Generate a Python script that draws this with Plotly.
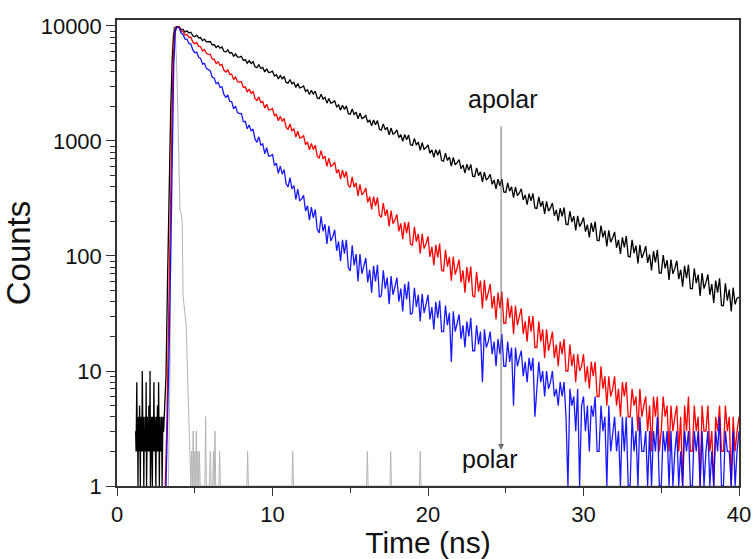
import math
import plotly.graph_objects as go

# ---------------- data ----------------
# decay channels: 4.000 ns .. 40.000 ns every 0.125 ns (289 channels)
decay_t = [round(4.0 + 0.125 * i, 3) for i in range(289)]

# apolar (black): pre-pulse background, rising edge, decay
black_pre_t = [round(1.20 + 0.025 * i, 3) for i in range(73)]
black_pre = [3, 2, 4, 8, 2, 3, 1, 4, 3, 2,
             5, 3, 1, 4, 2, 3, 2, 10, 3, 2,
             4, 1, 3, 2, 4, 3, 2, 8, 1, 3,
             4, 2, 3, 2, 5, 3, 2, 10, 1, 3,
             2, 4, 3, 1, 4, 2, 3, 8, 2, 3,
             4, 2, 1, 3, 4, 2, 5, 3, 2, 8,
             3, 1, 4, 2, 3, 2, 4, 3, 1, 2,
             4, 3, 3]
black_rise_t = [3.05, 3.15, 3.25, 3.35, 3.45, 3.55, 3.65, 3.75, 3.85]
black_rise = [4, 9, 60, 400, 1800, 5000, 8500, 9700, 9850]
black_decay = [
    9860, 9295, 9323, 8854, 9086, 8691, 8828, 8219,
    8075, 8330, 7879, 7928, 7435, 7689, 7278, 7259,
    7327, 6831, 6896, 6488, 6743, 6406, 6569, 6026,
    5929, 6193, 5806, 5879, 5451, 5713, 5359, 5368,
    5450, 5017, 5101, 4749, 5007, 4720, 4893, 4415,
    4342, 4609, 4272, 4360, 3984, 4248, 3939, 3968,
    4045, 3678, 3766, 3469, 3711, 3471, 3637, 3228,
    3182, 3426, 3144, 3232, 2914, 3156, 2896, 2932,
    3010, 2702, 2788, 2539, 2757, 2559, 2710, 2366,
    2332, 2547, 2315, 2396, 2133, 2345, 2131, 2167,
    2237, 1980, 2059, 1853, 2046, 1882, 2017, 1728,
    1709, 1900, 1704, 1781, 1559, 1748, 1568, 1604,
    1666, 1453, 1525, 1353, 1521, 1386, 1505, 1264,
    1245, 1409, 1248, 1316, 1133, 1295, 1147, 1181,
    1248, 1070, 1134, 994, 1137, 1026, 1130, 928,
    914, 1053, 922, 980, 830, 966, 846, 876,
    925, 782, 836, 722, 841, 752, 839, 676,
    668, 783, 677, 726, 605, 718, 621, 648,
    690, 573, 619, 527, 627, 555, 626, 494,
    489, 584, 499, 539, 441, 535, 457, 478,
    513, 420, 458, 384, 465, 408, 467, 360,
    357, 433, 366, 400, 322, 398, 335, 353,
    384, 308, 340, 279, 348, 301, 350, 262,
    259, 326, 269, 299, 232, 298, 245, 262,
    289, 224, 252, 201, 260, 221, 264, 189,
    187, 245, 197, 222, 167, 223, 180, 194,
    216, 163, 187, 145, 194, 162, 199, 137,
    136, 184, 145, 166, 121, 167, 132, 144,
    162, 118, 138, 104, 145, 119, 149, 99,
    98, 138, 106, 123, 86, 125, 96, 106,
    122, 87, 103, 75, 110, 88, 113, 71,
    71, 102, 78, 92, 62, 93, 70, 78,
    91, 63, 76, 54, 82, 64, 84, 52,
    52, 78, 58, 69, 45, 71, 52, 59,
    69, 46, 57, 39, 61, 48, 64, 37,
    37, 58, 41, 51, 33, 53, 38, 43,
    44]

# intermediate polarity (red)
red_rise_t = [3.10, 3.20, 3.30, 3.40, 3.50, 3.60, 3.70, 3.80, 3.90]
red_rise = [1, 3, 20, 150, 1000, 4500, 8500, 9650, 9750]
red_decay = [
    9785, 9012, 8945, 8306, 8471, 7942, 7996, 7255,
    7004, 7191, 6650, 6622, 6056, 6241, 5770, 5689,
    5663, 5140, 5141, 4716, 4886, 4539, 4625, 4116,
    3972, 4158, 3791, 3812, 3424, 3602, 3284, 3258,
    3282, 2919, 2955, 2664, 2827, 2594, 2689, 2330,
    2247, 2416, 2161, 2203, 1930, 2090, 1869, 1872,
    1914, 1656, 1704, 1500, 1642, 1481, 1570, 1313,
    1265, 1407, 1229, 1274, 1081, 1215, 1060, 1074,
    1112, 932, 978, 836, 952, 843, 919, 736,
    710, 825, 698, 739, 602, 710, 601, 618,
    656, 525, 567, 465, 559, 480, 543, 409,
    395, 488, 397, 433, 333, 419, 340, 358,
    389, 293, 328, 254, 329, 273, 324, 226,
    217, 289, 224, 254, 181, 248, 191, 206,
    230, 164, 192, 140, 197, 158, 198, 127,
    124, 179, 133, 156, 105, 156, 116, 128,
    148, 98, 120, 83, 125, 97, 128, 75,
    74, 113, 81, 98, 61, 99, 69, 79,
    93, 59, 75, 48, 80, 59, 81, 45,
    44, 73, 49, 61, 35, 62, 41, 48,
    57, 35, 45, 28, 48, 35, 49, 26,
    26, 43, 29, 37, 21, 37, 25, 30,
    35, 21, 27, 18, 30, 22, 30, 16,
    16, 27, 18, 23, 13, 23, 15, 18,
    22, 13, 17, 11, 18, 14, 19, 10,
    10, 17, 11, 14, 8, 14, 10, 11,
    14, 8, 11, 7, 12, 9, 12, 6,
    6, 11, 7, 9, 5, 9, 6, 7,
    9, 5, 7, 4, 8, 6, 8, 4,
    4, 7, 5, 6, 3, 7, 4, 5,
    6, 3, 5, 2, 6, 4, 6, 2,
    3, 6, 4, 5, 2, 5, 3, 4,
    5, 2, 4, 1, 5, 3, 6, 2,
    2, 5, 3, 4, 1, 5, 3, 3,
    5, 2, 3, 1, 4, 3, 5, 2,
    2, 5, 3, 4, 1, 4, 2, 3,
    4]

# polar (blue)
blue_rise_t = [3.15, 3.25, 3.35, 3.45, 3.55, 3.65, 3.75, 3.85]
blue_rise = [1, 3, 14, 90, 800, 4500, 9000, 9750]
blue_decay = [
    9610, 8674, 8437, 7679, 7675, 7053, 6960, 6188,
    5852, 5920, 5345, 5231, 4665, 4739, 4278, 4140,
    4069, 3581, 3534, 3148, 3239, 2931, 2955, 2541,
    2394, 2514, 2211, 2204, 1900, 2009, 1766, 1732,
    1737, 1468, 1484, 1278, 1379, 1217, 1271, 1036,
    974, 1087, 920, 946, 775, 875, 740, 742,
    768, 612, 640, 522, 605, 515, 565, 425,
    398, 481, 384, 410, 310, 382, 303, 312,
    337, 246, 273, 205, 266, 215, 254, 170,
    159, 221, 164, 189, 127, 183, 135, 147,
    169, 111, 134, 90, 138, 105, 138, 79,
    74, 124, 83, 104, 60, 104, 70, 82,
    96, 59, 76, 48, 82, 60, 84, 44,
    45, 75, 52, 65, 38, 67, 46, 54,
    65, 40, 52, 33, 57, 42, 60, 31,
    32, 53, 36, 46, 27, 47, 32, 38,
    46, 28, 36, 23, 40, 29, 41, 22,
    22, 37, 25, 32, 12, 33, 22, 26,
    31, 19, 25, 16, 27, 20, 29, 15,
    15, 25, 17, 22, 8, 23, 16, 18,
    22, 14, 18, 11, 19, 14, 21, 11,
    11, 18, 12, 16, 5, 16, 11, 13,
    15, 9, 12, 8, 13, 10, 13, 4,
    7, 12, 8, 10, 6, 10, 7, 8,
    10, 6, 7, 5, 8, 6, 8, 4,
    1, 7, 5, 6, 3, 7, 1, 5,
    6, 3, 5, 2, 5, 4, 6, 2,
    2, 5, 3, 4, 1, 5, 2, 3,
    4, 2, 3, 1, 4, 2, 4, 1,
    1, 4, 2, 3, 1, 4, 2, 2,
    3, 1, 3, 1, 3, 2, 4, 1,
    1, 3, 2, 3, 1, 3, 1, 2,
    3, 1, 2, 1, 3, 2, 3, 1,
    1, 3, 2, 3, 1, 3, 1, 2,
    3, 1, 2, 1, 3, 2, 4, 1,
    1, 3, 2, 2, 1, 3, 1, 2,
    3]

# instrument response (light grey)
irf_t = [3.30, 3.40, 3.45, 3.50, 3.55, 3.65, 3.75, 3.85, 3.95, 4.05, 4.15,
         4.20, 4.25, 4.35, 4.45, 4.55, 4.65, 4.75, 4.80, 4.85, 4.90, 4.95,
         5.00, 5.05, 5.10, 5.15, 5.20, 5.25, 5.30, 5.35, 5.65, 5.70, 5.75,
         5.95, 6.00, 6.05, 6.15, 6.20, 6.25, 6.30, 6.35, 6.55, 6.60, 6.65,
         8.35, 8.40, 8.45, 11.25, 11.30, 11.35, 16.05, 16.10, 16.15,
         17.55, 17.60, 17.65, 19.45, 19.50, 19.55, 40.0]
irf = [1, 8, 100, 1500, 7000, 9900, 9000, 4000, 800, 250, 230,
       180, 45, 35, 25, 8, 3, 1, 2, 1, 3, 1,
       2, 1, 3, 1, 2, 1, 2, 1, 1, 4, 1,
       1, 2, 1, 1, 2, 1, 3, 1, 1, 2, 1,
       1, 2, 1, 1, 2, 1, 1, 2, 1,
       1, 2, 1, 1, 2, 1, 1]

x_ticks = [0, 10, 20, 30, 40]
y_ticks = [1, 10, 100, 1000, 10000]
y_ticktext = ["1", "10", "100", "1000", "10000"]
y_minor = [m * 10 ** d for d in range(4) for m in range(2, 10)]

arrow_x = 24.7          # ns
arrow_top = 1380        # counts
arrow_tip = 2.06        # counts

# ---------------- figure ----------------
FONT = "Liberation Sans, Arial, sans-serif"
INK = "#111111"
LW = 1.3
fig = go.Figure()

fig.add_trace(go.Scatter(x=irf_t, y=irf, mode="lines",
                         line=dict(color="#b4b4b4", width=1), name="IRF"))
fig.add_trace(go.Scatter(x=black_pre_t + black_rise_t + decay_t,
                         y=black_pre + black_rise + black_decay, mode="lines",
                         line=dict(color="#000000", width=LW), name="apolar"))
fig.add_trace(go.Scatter(x=red_rise_t + decay_t, y=red_rise + red_decay,
                         mode="lines", line=dict(color="#ff0000", width=LW),
                         name="intermediate"))
fig.add_trace(go.Scatter(x=blue_rise_t + decay_t, y=blue_rise + blue_decay,
                         mode="lines", line=dict(color="#0000ff", width=LW),
                         opacity=0.9, name="polar"))

fig.add_annotation(x=arrow_x, y=math.log10(arrow_tip), xref="x", yref="y",
                   ax=arrow_x, ay=math.log10(arrow_top), axref="x", ayref="y",
                   text="", showarrow=True, arrowhead=2, arrowsize=1.2,
                   arrowwidth=1, arrowcolor="#6e6e6e")
fig.add_annotation(x=24.8, y=math.log10(2300), xref="x", yref="y",
                   text="apolar", showarrow=False,
                   font=dict(family=FONT, size=25, color=INK))
fig.add_annotation(x=24.0, y=math.log10(1.72), xref="x", yref="y",
                   text="polar", showarrow=False,
                   font=dict(family=FONT, size=25, color=INK))

axis_common = dict(showline=True, linecolor="#333333", linewidth=1.5,
                   mirror=True, showgrid=False, zeroline=False,
                   automargin=False,
                   ticks="outside", tickcolor="#333333", tickwidth=1.2,
                   tickfont=dict(family=FONT, size=22, color=INK))

fig.update_xaxes(range=[0, 40], tickvals=x_ticks, ticklen=8,
                 minor=dict(dtick=5, ticks="outside", ticklen=5,
                            tickcolor="#333333", tickwidth=1.2),
                 title=dict(text="Time (ns)",
                            font=dict(family=FONT, size=30, color=INK),
                            standoff=7),
                 **axis_common)
fig.update_yaxes(type="log", range=[0, 4.052], tickvals=y_ticks,
                 ticktext=y_ticktext, ticklen=9,
                 minor=dict(tickvals=y_minor, ticks="outside", ticklen=5,
                            tickcolor="#333333", tickwidth=1.2),
                 title=dict(text="Counts",
                            font=dict(family=FONT, size=33, color=INK),
                            standoff=5),
                 **axis_common)

fig.update_layout(width=753, height=559, showlegend=False,
                  paper_bgcolor="white", plot_bgcolor="white",
                  margin=dict(l=117, r=14, t=20, b=73))

fig.write_html("out.html")
